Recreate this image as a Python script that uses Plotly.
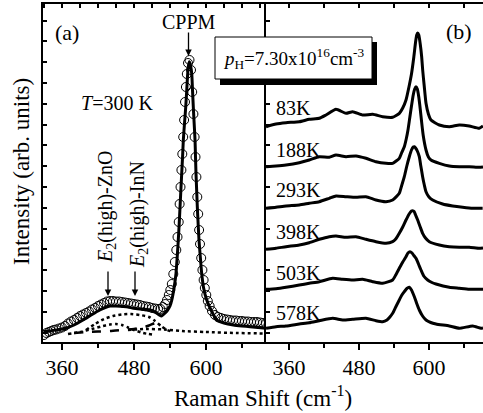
import plotly.graph_objects as go

W, H = 483, 413

# ---------------- Panel (a): T = 300 K spectrum ----------------
a_exp_x = [330, 334, 338, 342, 346, 350, 355, 360, 365, 370, 375, 380, 385, 390, 395,
           400, 405, 410, 415, 420, 425, 430, 435, 440, 445, 450, 455, 460, 465, 470,
           475, 480, 485, 490, 495, 500, 505, 510, 515, 520, 524, 528, 532, 535, 538,
           540.5, 543, 545.5, 548, 550.5, 552.5, 554.5, 556, 557.5, 559, 560.5, 562,
           563.5, 565, 566.5, 568, 570, 572.5, 575, 577, 579, 581, 582.5, 584, 585.5,
           587, 588.5, 590, 592, 594, 596, 598, 600.5, 603, 606, 610, 615, 620, 625,
           630, 635, 640, 645, 650, 655, 660, 665, 670, 675, 680, 685, 690, 695, 700]
a_exp_y = [7, 9, 10, 11, 12, 12.5, 13.5, 14.5, 16, 18.5, 20.5, 22, 24, 26, 27.5,
           29, 30.5, 32.5, 34, 36, 37.5, 39, 40.5, 41, 41, 40.5, 40.5, 40, 39.5, 39,
           38.5, 38, 37.5, 37, 36, 35.5, 35, 34, 33.5, 33, 33, 35, 38, 42, 47,
           52, 58, 68, 80, 92, 105, 120, 138, 155, 172, 188, 205,
           222, 240, 255, 268, 279, 282, 272, 250, 228, 205, 185, 165, 145,
           128, 112, 98, 84, 72, 62, 54, 47, 41, 36, 31, 27, 25, 24,
           23, 22.5, 22, 21.5, 21.5, 21, 21, 20.5, 20.5, 20, 20, 20, 19.5, 19, 18.5]

a_fit_x = [329, 340, 350, 360, 368, 380, 395, 410, 423, 432, 440, 450, 460, 470, 479,
           490, 500, 507, 515, 522, 526, 530, 535, 540, 543, 547, 550, 552, 553.8,
           555.3, 556.7, 558.1, 559.5, 561, 562.2, 564.2, 566.2, 568, 569.5, 571,
           572.2, 574, 576.2, 577.5, 578.8, 580.3, 581.7, 582.5, 583.3, 584.4, 585.5,
           586.9, 588.3, 590.5, 592.8, 596, 601.2, 610, 617.8, 630, 645.5, 660, 673.3, 700]
a_fit_y = [10.3, 11, 12, 13, 14, 17, 22, 27.5, 32, 34.5, 36, 36, 35.5, 35, 33.7,
           33, 32.5, 32, 30, 27, 26, 28, 31, 36, 42, 55, 68.7, 85, 102,
           118, 135, 152, 168.7, 186, 202, 219, 235, 253, 268.7, 277,
           280.3, 277, 268.7, 252, 235.3, 218, 202, 185, 168.7, 152, 135.3,
           118, 102, 85, 68.7, 54, 42, 30, 22, 19, 17, 16, 15.3, 13.7]

a_cmpA_x = [400, 415, 430, 445, 460, 475, 490, 505, 515, 525, 535, 545]
a_cmpA_y = [12, 18, 23, 26, 27.5, 28, 27, 25, 21, 16, 12, 10]
a_cmpB_x = [370, 390, 410, 425, 440, 450, 460, 470, 480, 495, 510]
a_cmpB_y = [8, 10, 13, 15.5, 17.5, 18, 17, 14.5, 12, 9, 7.5]
a_cmpC_x = [380, 400, 420, 440, 460, 480, 495, 505, 515, 520]
a_cmpC_y = [9, 10, 10.5, 11, 12, 13, 14.5, 16.5, 19, 19.5]
a_cmpD_x = [470, 500, 530, 560, 600, 650, 700]
a_cmpD_y = [12, 13, 12.5, 11, 10, 9, 8.5]

# ---------------- Panel (b): temperature series ----------------
b_labels = ["83K", "188K", "293K", "398K", "503K", "578K"]

b83_x = [320.6, 337.7, 354.9, 377.7, 394.8, 412, 423.4, 440.6, 457.7, 469.2, 486.3, 503.5,
         520.6, 537.7, 549.2, 555, 560.6, 566, 570, 574, 577, 579, 580.6, 582.5, 585,
         587.5, 589.2, 592, 594.9, 599, 603.4, 617.7, 634.8, 652, 669, 686.2, 692.6]
b83_y = [215.3, 218, 219.3, 220.3, 222.7, 223.7, 227, 232.7, 228.7, 230.3, 227, 227.7,
         225.3, 224.7, 228.7, 234, 242, 256, 268, 285, 300, 307, 309, 307, 298,
         285, 272, 255, 238.7, 228, 222, 217, 215.3, 217, 216, 213.7, 216]

b188_x = [320.6, 337.7, 354.9, 377.7, 394.8, 412, 429.1, 440.6, 457.7, 474.9, 492, 509.1,
          526.3, 537.7, 549.1, 553, 557.7, 561, 564, 567, 570, 573, 575.5, 577.7, 580,
          582.5, 585, 587, 590, 594.9, 599, 603.4, 617.7, 634.8, 652, 669, 686.2, 692.6]
b188_y = [175.3, 176, 177, 179.3, 182, 185.3, 184.7, 187, 185.3, 186, 183.7, 180.3,
          178.7, 178.7, 183.7, 189, 195.3, 203, 212, 224, 236, 247, 253, 255.3, 253,
          245, 233, 222, 207, 192, 185, 182, 178.7, 176, 175.3, 175.3, 174.7, 175]

b293_x = [320.6, 337.7, 354.9, 377.7, 394.8, 412, 429.1, 440.6, 457.7, 474.9, 492, 509.1,
          526.3, 537.7, 549.1, 553, 557.7, 562, 566.3, 570, 573, 574.9, 577, 580, 583.4,
          586, 589.1, 592, 594.9, 600, 606.3, 623.4, 640.6, 657.7, 674.9, 692]
b293_y = [133.7, 134.7, 136, 137, 138.7, 140.3, 143.7, 146, 145.3, 144.7, 145.3, 142,
          140.3, 142, 148.7, 156, 165.3, 176, 185.3, 192, 195, 195.3, 194, 191, 185.3,
          176, 165.3, 157, 150.3, 145, 142, 138, 136, 134.7, 133.7, 133.7]

b398_x = [320.6, 337.7, 354.9, 377.7, 394.8, 412, 429.1, 440.6, 457.7, 474.9, 492, 509.1,
          526.3, 537.7, 543, 549.1, 555, 560.6, 566, 570, 572, 574.5, 577, 580.6, 585,
          589.1, 594, 600.6, 617.7, 634.8, 652, 669, 686.2, 692.6]
b398_y = [92.7, 93.7, 95.3, 97, 99.3, 102.7, 105.3, 106, 104.7, 105.3, 102.7, 100.3,
          98.7, 100.3, 103, 108.7, 115, 122, 128, 131, 131.3, 130.5, 127, 122, 115,
          108.7, 104, 100.3, 97, 95.3, 94.7, 94.7, 93.7, 94]

b503_x = [320.6, 337.7, 354.9, 377.7, 394.8, 412, 434.9, 452, 469.2, 486.3, 503.4, 520.6,
          537.7, 543, 549.1, 555, 560.6, 564, 567.4, 571, 574, 577.7, 582, 586.3, 591,
          597.7, 605, 612, 634.8, 652, 669, 686.2, 692.6]
b503_y = [52.7, 53.3, 54.7, 57, 58.7, 60.3, 63.7, 62.7, 62, 62.7, 60.3, 58.7,
          62, 67, 73.7, 80, 85.3, 89, 90.3, 89, 86.5, 83.7, 78, 72, 66,
          62, 59.5, 58, 54.7, 53.7, 52.7, 52.7, 52.7]

b578_x = [320.6, 337.7, 354.9, 377.7, 394.8, 412, 434.9, 452, 469.2, 492, 509.1, 520.6,
          528, 533, 537.7, 543, 549.1, 553, 557.7, 562, 566.3, 570, 574.9, 579, 583.4,
          589, 594.9, 603, 612, 634.8, 652, 674.9, 689.1, 692.6]
b578_y = [13.7, 15.3, 16, 18, 19.3, 21.3, 23.7, 22, 22.7, 23.7, 21.3, 20.3,
          22, 25, 28.7, 35, 42, 46.5, 50.3, 53.5, 54.7, 52, 45.3, 38.5, 32,
          26, 22, 19.5, 18, 16, 13.7, 16, 13.7, 14]

b_x = [b83_x, b188_x, b293_x, b398_x, b503_x, b578_x]
b_y = [b83_y, b188_y, b293_y, b398_y, b503_y, b578_y]

# ---------------- figure ----------------
FONT = "Liberation Serif"


def px(x):
    return x / W


def py(y):
    return 1 - y / H


fig = go.Figure()

fig.add_trace(go.Scatter(x=a_exp_x, y=a_exp_y, mode="markers", xaxis="x", yaxis="y",
                         marker=dict(symbol="circle-open", size=9, color="black",
                                     line=dict(width=1, color="black"))))
for cx, cy, dash in [(a_cmpA_x, a_cmpA_y, "dot"), (a_cmpB_x, a_cmpB_y, "dot"),
                     (a_cmpC_x, a_cmpC_y, "dash"), (a_cmpD_x, a_cmpD_y, "dot")]:
    fig.add_trace(go.Scatter(x=cx, y=cy, mode="lines", xaxis="x", yaxis="y",
                             line=dict(color="black", width=2.5, dash=dash,
                                       shape="spline", smoothing=0.6)))
fig.add_trace(go.Scatter(x=a_fit_x, y=a_fit_y, mode="lines", xaxis="x", yaxis="y",
                         line=dict(color="black", width=3, shape="spline", smoothing=0.5)))

for xs, ys in zip(b_x, b_y):
    fig.add_trace(go.Scatter(x=xs, y=ys, mode="lines", xaxis="x2", yaxis="y2",
                             line=dict(color="black", width=3, shape="spline", smoothing=0.5)))

xa_dom = [px(43), px(266)]
xb_dom = [px(266), 1.0]
y_dom = [py(342), py(4)]

tickfont = dict(family=FONT, size=22, color="black")

common_x = dict(showline=True, linecolor="black", linewidth=1.5, mirror=True,
                ticks="outside", ticklen=6, tickwidth=1.5, tickcolor="black",
                tick0=360, dtick=120, tickfont=tickfont, showgrid=False, zeroline=False,
                ticklabelstandoff=-1,
                minor=dict(tick0=360, dtick=60, ticks="outside", ticklen=4,
                           tickwidth=1.5, tickcolor="black", showgrid=False))

fig.update_layout(
    width=W, height=H, margin=dict(l=0, r=0, t=0, b=0),
    paper_bgcolor="white", plot_bgcolor="white", showlegend=False,
    xaxis=dict(domain=xa_dom, range=[328.3, 700], anchor="y", **common_x),
    xaxis2=dict(domain=xb_dom, range=[320.6, 692.6], anchor="y2", **common_x),
    xaxis3=dict(domain=xa_dom, range=[328.3, 700], anchor="y", overlaying="x", side="top",
                ticks="inside", ticklen=4, tickwidth=1.5, tickcolor="black", tick0=330,
                dtick=30, showticklabels=False, showgrid=False, zeroline=False),
    xaxis4=dict(domain=xb_dom, range=[320.6, 692.6], anchor="y2", overlaying="x2",
                side="top", ticks="inside", ticklen=4, tickwidth=1.5, tickcolor="black",
                tick0=360, dtick=60, showticklabels=False, showgrid=False, zeroline=False),
    yaxis=dict(domain=y_dom, range=[0, 338], anchor="x", showline=True, linecolor="black",
               linewidth=1.5, mirror=False, ticks="inside", ticklen=4, tickwidth=1.5,
               tickcolor="black", tick0=9.5, dtick=20.8, showticklabels=False,
               showgrid=False, zeroline=False),
    yaxis2=dict(domain=y_dom, range=[0, 338], anchor="x2", showline=True, linecolor="black",
                linewidth=1.5, mirror=False, ticks="inside", ticklen=4, tickwidth=1.5,
                tickcolor="black", tick0=9.5, dtick=20.8, showticklabels=False,
                showgrid=False, zeroline=False),
)

# empty traces so the top overlay axes are drawn
fig.add_trace(go.Scatter(x=[None], y=[None], xaxis="x3", yaxis="y", showlegend=False))
fig.add_trace(go.Scatter(x=[None], y=[None], xaxis="x4", yaxis="y2", showlegend=False))

ann = []


def text(x, y, s, size=20, xanchor="center", angle=0):
    ann.append(dict(x=px(x), y=py(y), xref="paper", yref="paper", text=s, showarrow=False,
                    xanchor=xanchor, yanchor="middle", textangle=angle,
                    font=dict(family=FONT, size=size, color="black")))


def arrow(x, y0, y1):
    ann.append(dict(x=px(x), y=py(y1), xref="paper", yref="paper", text="",
                    showarrow=True, ax=0, ay=-(y1 - y0), arrowhead=2, arrowsize=1,
                    arrowwidth=1.3, arrowcolor="black"))


text(53, 32, "(a)", size=22, xanchor="left")
text(444, 31, "(b)", size=22, xanchor="left")
text(189, 22, "CPPM")
arrow(188.5, 31, 56)
text(79, 103, "<i>T</i>=300 K", xanchor="left")
text(106, 207, "<i>E</i><sub>2</sub>(high)-ZnO", angle=-90)
text(138, 215, "<i>E</i><sub>2</sub>(high)-InN", angle=-90)
arrow(108, 270, 296)
arrow(135, 270, 296)
text(293.5, 58, "<i>p</i><sub>H</sub>=7.30x10<sup>16</sup>cm<sup>-3</sup>", size=19)
label_y = [108, 150, 190, 231.5, 272.5, 312.5]
for lab, ly in zip(b_labels, label_y):
    text(274, ly, lab, xanchor="left")
text(263, 396, "Raman Shift (cm<sup>-1</sup>)", size=23)
text(21, 172, "Intensity (arb. units)", size=23, angle=-90)

fig.update_layout(annotations=ann)

fig.update_layout(shapes=[
    dict(type="rect", xref="paper", yref="paper", x0=px(220), x1=px(377), y0=py(85),
         y1=py(42), fillcolor="black", line=dict(width=0)),
    dict(type="rect", xref="paper", yref="paper", x0=px(215), x1=px(372), y0=py(79),
         y1=py(37), fillcolor="white", line=dict(color="black", width=1)),
])

fig.write_html("out.html", config={"displayModeBar": False})

# remove the browser's default page margin so the figure sits at the window's corner
with open("out.html", encoding="utf-8") as f:
    page = f.read()
page = page.replace("<head>", "<head><style>html,body{margin:0;padding:0;overflow:hidden;}</style>", 1)
with open("out.html", "w", encoding="utf-8") as f:
    f.write(page)
